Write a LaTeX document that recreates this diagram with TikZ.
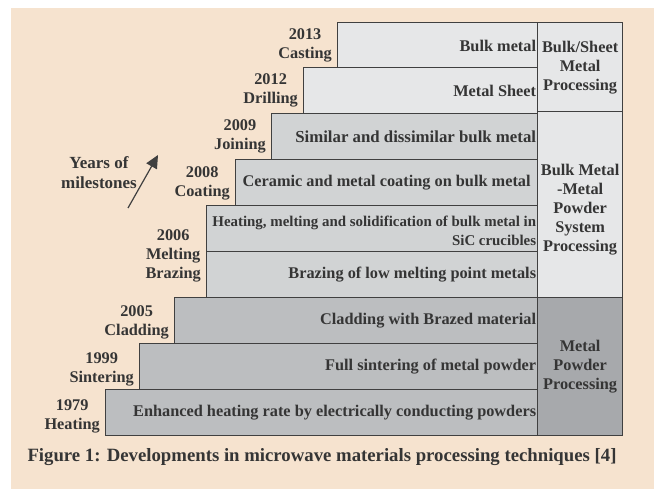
\documentclass[tikz,border=0pt]{standalone}
\usepackage{fontspec}
\setmainfont{Liberation Serif}
\usetikzlibrary{arrows.meta}
\definecolor{bgbeige}{HTML}{F6E3CF}
\definecolor{cLight}{HTML}{E6E7E8}
\definecolor{cMid}{HTML}{D1D3D4}
\definecolor{cDark}{HTML}{BCBEC0}
\definecolor{cDarker}{HTML}{A7A9AC}
\definecolor{ink}{HTML}{353535}
\definecolor{edge}{HTML}{404040}
\tikzset{
  txt/.style={font=\fontsize{16.3}{19}\selectfont\bfseries, text=ink},
  rowbox/.style={draw=edge, line width=1.3pt, anchor=north west, minimum height=46pt, inner sep=0pt},
  rowtxt/.style={txt, anchor=east, align=right, inner sep=0pt, xshift=-2pt},
  colbox/.style={txt, draw=edge, line width=1.3pt, anchor=north west, minimum width=85pt, text width=85pt, inner sep=0pt, align=center},
  yearlbl/.style={txt, anchor=east, align=center, inner sep=0pt, xshift=-5pt},
}
\begin{document}
\begin{tikzpicture}[x=1pt,y=-1pt]
\useasboundingbox (0,0) rectangle (654,489);
\fill[bgbeige] (11,8) rectangle (654,489);
% rows
\node[rowbox, fill=cLight, minimum width=200pt] (r1) at (337,22) {};
\node[rowbox, fill=cLight, minimum width=234pt] (r2) at (303,67) {};
\node[rowbox, fill=cMid, minimum width=266pt] (r3) at (271,113) {};
\node[rowbox, fill=cMid, minimum width=302pt] (r4) at (235,159) {};
\node[rowbox, fill=cMid, minimum width=331pt] (r5) at (206,205) {};
\node[rowbox, fill=cMid, minimum width=331pt] (r6) at (206,251) {};
\node[rowbox, fill=cDark, minimum width=363pt] (r7) at (174,297) {};
\node[rowbox, fill=cDark, minimum width=398pt] (r8) at (139,343) {};
\node[rowbox, fill=cDark, minimum width=432pt] (r9) at (105,389) {};
\node[rowtxt] (t1) at (r1.east) {Bulk metal};
\node[rowtxt] (t2) at (r2.east) {Metal Sheet};
\node[rowtxt, font=\fontsize{16.8}{19}\selectfont\bfseries] (t3) at (r3.east) {Similar and dissimilar bulk metal};
\node[txt, inner sep=0pt] (t4) at (r4.center) {Ceramic and metal coating on bulk metal};
\node[rowtxt, font=\fontsize{14.9}{19}\selectfont\bfseries] (t5) at ([yshift=-2pt]r5.east) {Heating, melting and solidification of bulk metal in\\SiC crucibles};
\node[rowtxt] (t6) at (r6.east) {Brazing of low melting point metals};
\node[rowtxt] (t7) at (r7.east) {Cladding with Brazed material};
\node[rowtxt] (t8) at (r8.east) {Full sintering of metal powder};
\node[rowtxt] (t9) at (r9.east) {Enhanced heating rate by electrically conducting powders};
% right column
\node[colbox, fill=cLight, minimum height=89pt] (c1) at (537,22) {Bulk/Sheet\\Metal\\Processing};
\node[colbox, fill=cLight, minimum height=186pt] (c2) at (537,111) {};
\node[txt, align=center, inner sep=0pt] (c2t) at ([yshift=-5pt]c2.center) {Bulk Metal\\-Metal\\Powder\\System\\Processing};
\node[colbox, fill=cDarker, minimum height=138pt] (c3) at (537,297) {Metal\\Powder\\Processing};
% year labels
\node[yearlbl] (y1) at ([yshift=0.5pt]r1.west) {2013\\Casting};
\node[yearlbl] (y2) at ([yshift=0.5pt]r2.west) {2012\\Drilling};
\node[yearlbl] (y3) at ([yshift=0.5pt]r3.west) {2009\\Joining};
\node[yearlbl] (y4) at ([yshift=-0.5pt]r4.west) {2008\\Coating};
\node[yearlbl] (y5) at ([yshift=-4pt]r5.south west) {2006\\Melting\\Brazing};
\node[yearlbl] (y6) at ([yshift=-1.5pt]r7.west) {2005\\Cladding};
\node[yearlbl] (y7) at ([yshift=-3pt]r8.west) {1999\\Sintering};
\node[yearlbl] (y8) at ([yshift=-3.5pt]r9.west) {1979\\Heating};
% milestones
\node[txt, align=center, inner sep=0pt, font=\fontsize{17}{20}\selectfont\bfseries] (ym) at (99,173) {Years of\\milestones};
\coordinate (a0) at (128,208);
\coordinate (a1) at (158,155);
\draw[edge, line width=1.2pt, -{Triangle[length=13pt,width=12pt]}] (a0) -- (a1);
% caption
\node[txt, font=\fontsize{18.75}{21}\selectfont\bfseries, inner sep=0pt] (cap) at (322,457) {Figure 1: Developments in microwave materials processing techniques [4]};
\end{tikzpicture}
\end{document}
